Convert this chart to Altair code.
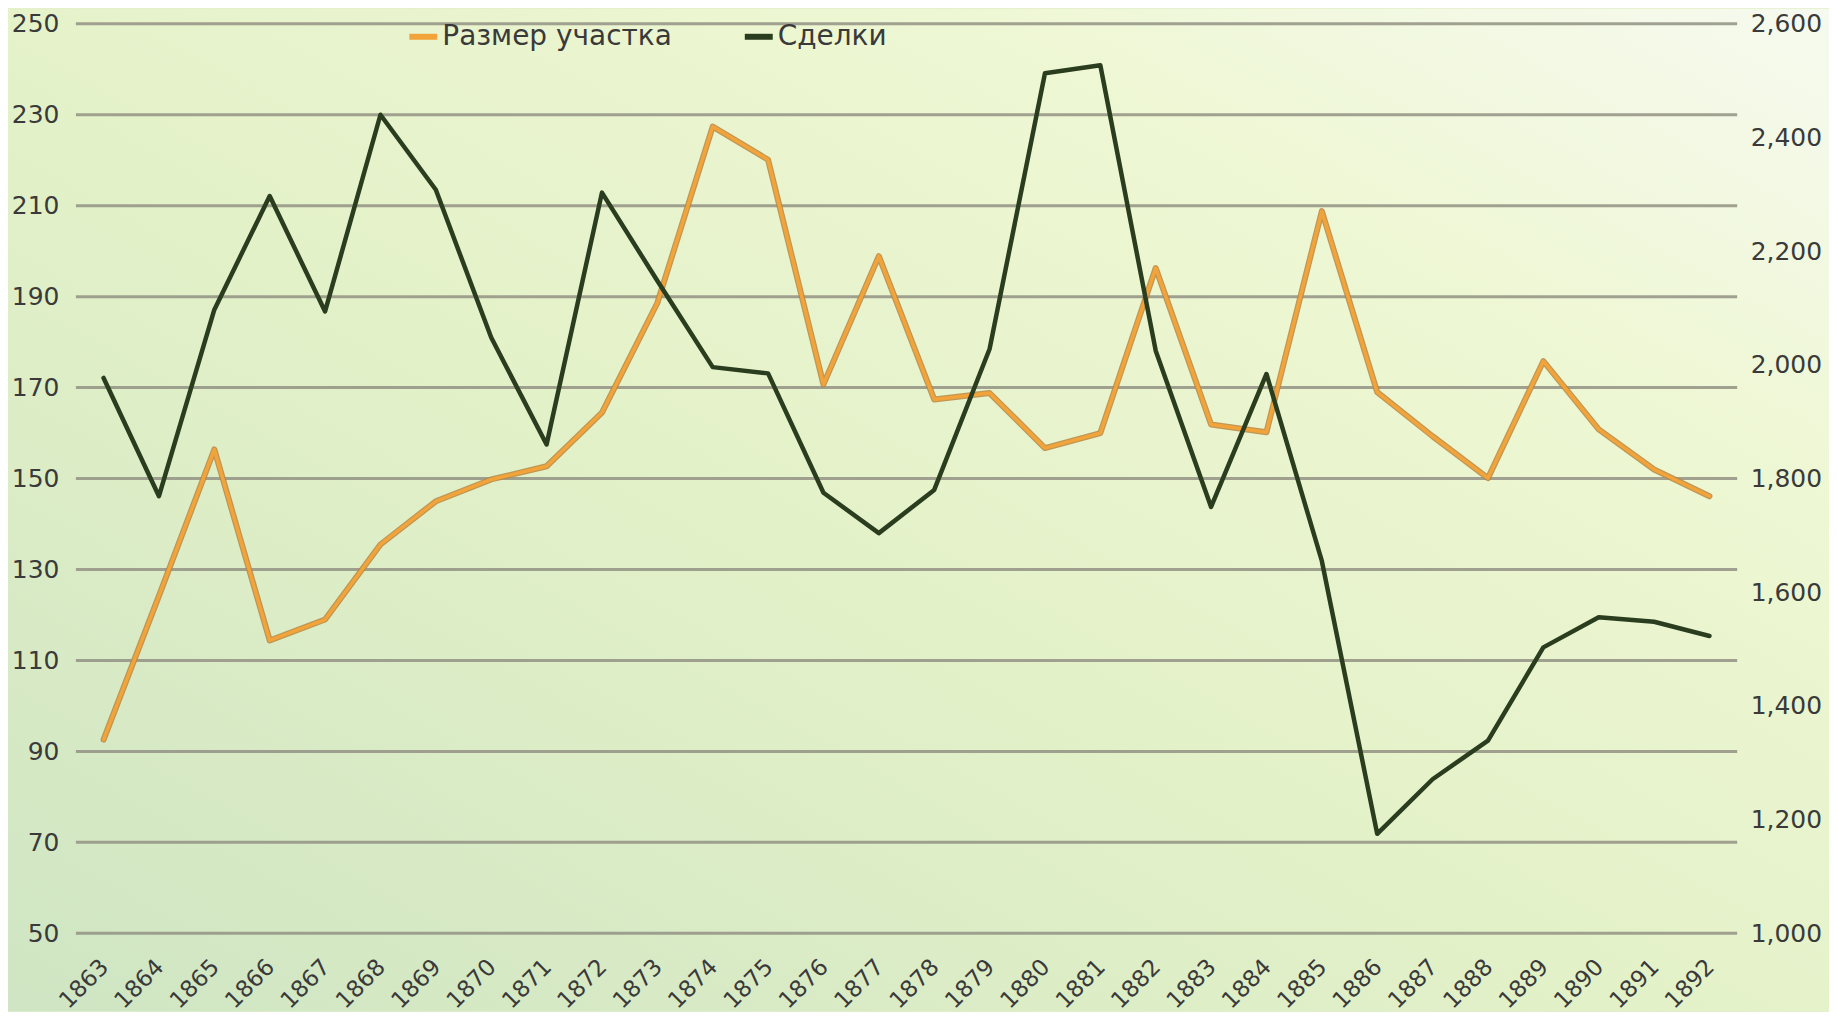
import altair as alt
import pandas as pd

# ---- data ----
YEARS = list(range(1863, 1893))
PLOT_SIZE = [92.6, 124.2, 156.4, 114.4, 119.0, 135.5, 145.0, 149.8, 152.7, 164.5,
             188.6, 227.4, 220.1, 170.7, 198.9, 167.4, 168.8, 156.7, 160.0, 196.3,
             161.9, 160.2, 208.8, 169.0, 159.3, 150.1, 175.8, 160.8, 152.0, 146.1]
DEALS = [1977, 1769, 2097, 2297, 2094, 2440, 2308, 2048, 1860, 2303,
         2148, 1996, 1985, 1775, 1704, 1780, 2028, 2513, 2527, 2025,
         1750, 1984, 1655, 1175, 1271, 1339, 1503, 1556, 1548, 1523]
LEFT_TICKS = [50, 70, 90, 110, 130, 150, 170, 190, 210, 230, 250]
RIGHT_TICKS = [1000, 1200, 1400, 1600, 1800, 2000, 2200, 2400, 2600]
SERIES = ["Размер участка", "Сделки"]
COLORS = ["#f2a43a", "#2b3d1f"]

W, H = 1664, 911
PAD = {"left": 68, "top": 15, "right": 92, "bottom": 78}
FONT = "DejaVu Sans"
LABEL_COLOR = "#3a3a3a"

df = pd.DataFrame({"year": YEARS, "size": PLOT_SIZE, "deals": DEALS})
grid_df = pd.DataFrame({"tick": LEFT_TICKS})
one = pd.DataFrame({"a": [0]})

x_enc = alt.X("year:O", scale=alt.Scale(type="point", padding=0.5),
              axis=alt.Axis(title=None, labelAngle=-45, labelFontSize=23,
                            labelFont=FONT, labelColor=LABEL_COLOR,
                            domain=False, ticks=False, labelPadding=22,
                            labelOffset=-7, zindex=1))

left_scale = alt.Scale(domain=[50, 250], nice=False, zero=False)
left_axis = alt.Axis(title=None, values=LEFT_TICKS, grid=False, domain=False,
                     ticks=False, labelFontSize=25, labelFont=FONT,
                     labelColor=LABEL_COLOR, labelPadding=17, orient="left", zindex=1)
right_scale = alt.Scale(domain=[1000, 2600], nice=False, zero=False)
right_axis = alt.Axis(title=None, values=RIGHT_TICKS, grid=False, domain=False,
                      ticks=False, labelFontSize=25, labelFont=FONT,
                      labelColor=LABEL_COLOR, labelPadding=13, orient="right",
                      format=",.0f", labelLimit=200, zindex=1)

color_scale = alt.Scale(domain=SERIES, range=COLORS)
legend = alt.Legend(orient="none", legendX=331, legendY=-4, direction="horizontal",
                    title=None, symbolType="stroke", symbolSize=784,
                    symbolStrokeWidth=6, labelFontSize=28, labelFont=FONT,
                    labelColor=LABEL_COLOR, labelOffset=2, columnPadding=60,
                    padding=0, labelLimit=500, zindex=1)

bg = alt.Chart(one).mark_rect(
    fill=alt.LinearGradient(
        gradient="linear", x1=0, y1=1, x2=1, y2=0,
        stops=[alt.GradientStop(color="#cfe5c3", offset=0),
               alt.GradientStop(color="#e3f1c8", offset=0.45),
               alt.GradientStop(color="#eef7d3", offset=0.75),
               alt.GradientStop(color="#f6faef", offset=1)])
).encode(x=alt.value(-PAD["left"]), x2=alt.value(W + PAD["right"]),
         y=alt.value(-PAD["top"]), y2=alt.value(H + PAD["bottom"]))

grid = alt.Chart(grid_df).mark_rule(color="#979787", strokeWidth=3, opacity=0.9).encode(
    y=alt.Y("tick:Q", scale=left_scale, axis=left_axis),
    x=alt.value(0), x2=alt.value(W))

orange_outline = alt.Chart(df).mark_line(
    color="#b98640", strokeWidth=6, strokeJoin="round", strokeCap="round", opacity=0.85
).encode(x=x_enc, y=alt.Y("size:Q", scale=left_scale, axis=left_axis))

orange = alt.Chart(df).transform_calculate(series=f"'{SERIES[0]}'").mark_line(
    strokeWidth=3.5, strokeJoin="round", strokeCap="round"
).encode(x=x_enc, y=alt.Y("size:Q", scale=left_scale, axis=left_axis),
         color=alt.Color("series:N", scale=color_scale, legend=legend))

left = alt.layer(grid, orange_outline, orange)

dark = alt.Chart(df).transform_calculate(series=f"'{SERIES[1]}'").mark_line(
    strokeWidth=4.5, strokeJoin="round", strokeCap="round"
).encode(x=x_enc, y=alt.Y("deals:Q", scale=right_scale, axis=right_axis),
         color=alt.Color("series:N", scale=color_scale, legend=legend))

chart = alt.layer(bg, left, dark).resolve_scale(y="independent").properties(
    width=W, height=H, padding=PAD,
    autosize=alt.AutoSizeParams(type="none"),
    background="#e2efcb",
).configure_view(stroke=None)

chart.save("out.html", embed_options={"renderer": "svg", "actions": False})
